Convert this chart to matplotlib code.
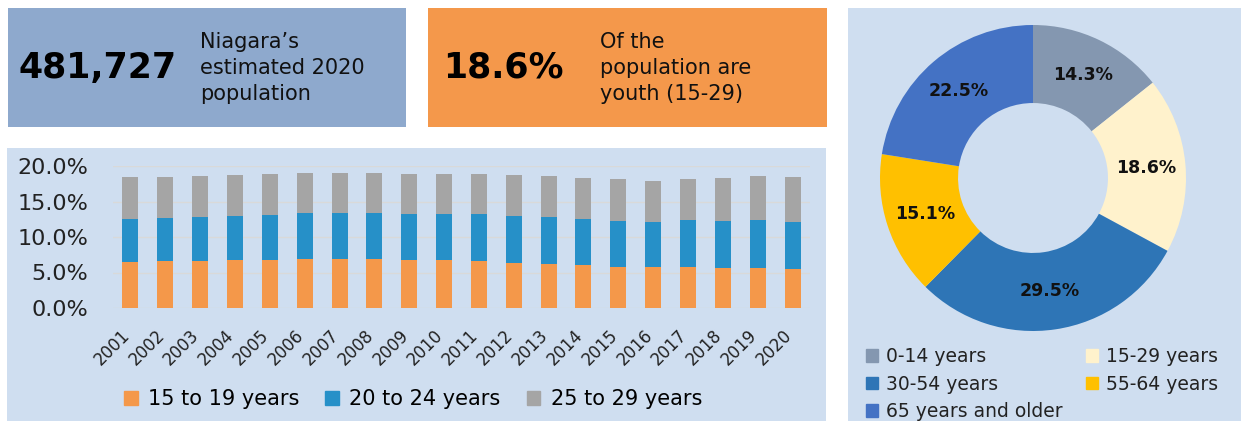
import numpy as np
import matplotlib
matplotlib.use("Agg")
import matplotlib.pyplot as plt
from matplotlib.patches import Rectangle, Patch

# data
years = [str(y) for y in range(2001, 2021)]
top_15_19 = [6.5, 6.65, 6.65, 6.8, 6.8, 6.95, 6.95, 6.95, 6.8, 6.8,
             6.65, 6.35, 6.2, 6.1, 5.8, 5.8, 5.8, 5.65, 5.65, 5.55]
top_20_24 = [12.55, 12.7, 12.85, 13.0, 13.1, 13.4, 13.4, 13.4, 13.25, 13.25,
             13.25, 12.95, 12.8, 12.55, 12.25, 12.1, 12.4, 12.25, 12.4, 12.1]
top_25_29 = [18.45, 18.45, 18.6, 18.75, 18.9, 19.0, 19.0, 19.0, 18.9, 18.9,
             18.9, 18.75, 18.6, 18.3, 18.15, 17.9, 18.15, 18.3, 18.6, 18.45]
series_names = ["15 to 19 years", "20 to 24 years", "25 to 29 years"]

age_groups = ["0-14 years", "15-29 years", "30-54 years", "55-64 years", "65 years and older"]
age_shares = [14.3, 18.6, 29.5, 15.1, 22.5]

W, H = 1241, 421
PANEL = "#CFDEF0"
BAR_COLORS = ["#F4984A", "#2690C8", "#A5A5A5"]
PIE_COLORS = ["#8497B0", "#FFF2CC", "#2E75B6", "#FFC000", "#4472C4"]

plt.rcParams["font.family"] = "DejaVu Sans"

fig = plt.figure(figsize=(W / 100, H / 100), dpi=100)
fig.patch.set_facecolor("white")


def box(x0, y0, x1, y1, color):
    fig.add_artist(Rectangle((x0 / W, 1 - y1 / H), (x1 - x0) / W, (y1 - y0) / H,
                             transform=fig.transFigure, facecolor=color,
                             edgecolor="none", zorder=0))


def fx(x):
    return x / W


def fy(y):
    return 1 - y / H


# background panels
box(8, 8, 406, 127, "#8EA9CD")
box(428, 8, 827, 127, "#F4984B")
box(7, 148, 826, H, PANEL)
box(848, 8, W, H, PANEL)

# headline boxes
fig.text(fx(18), fy(68), "481,727", fontsize=25, fontweight="bold", va="center", ha="left")
fig.text(fx(200), fy(68), "Niagara\u2019s\nestimated 2020\npopulation", fontsize=15,
         va="center", ha="left", linespacing=1.4, color="#111111")
fig.text(fx(443), fy(68), "18.6%", fontsize=25, fontweight="bold", va="center", ha="left")
fig.text(fx(600), fy(68), "Of the\npopulation are\nyouth (15-29)", fontsize=15,
         va="center", ha="left", linespacing=1.4, color="#111111")

# stacked bars
ax = fig.add_axes([fx(113), fy(308), (810 - 113) / W, (308 - 166) / H])
ax.set_facecolor("none")
x = np.arange(len(years))
b1 = np.array(top_15_19)
b2 = np.array(top_20_24) - b1
b3 = np.array(top_25_29) - np.array(top_20_24)
bottom = np.zeros(len(years))
for vals, c in zip([b1, b2, b3], BAR_COLORS):
    ax.bar(x, vals, 0.46, bottom=bottom, color=c, zorder=2)
    bottom = bottom + vals
ax.set_xlim(-0.5, 19.5)
ax.set_ylim(0, 20)
ax.set_yticks([0, 5, 10, 15, 20])
ax.set_yticklabels(["%.1f%%" % v for v in [0, 5, 10, 15, 20]], fontsize=16, color="#222222")
ax.set_xticks(x + 0.08)
ax.set_xticklabels(years, rotation=45, ha="right", va="top", fontsize=12, color="#222222")
ax.tick_params(axis="y", length=0, pad=18)
ax.tick_params(axis="x", length=0, pad=13)
ax.grid(axis="y", color="#D9D9D9", linewidth=1, zorder=1)
for s in ax.spines.values():
    s.set_visible(False)

fig.legend([Patch(color=c) for c in BAR_COLORS], series_names, loc="center",
           bbox_to_anchor=(fx(413), fy(399)), ncol=3, frameon=False, fontsize=15,
           handlelength=0.65, handleheight=0.65, handletextpad=0.5, columnspacing=1.25)

# donut
r = 153
pax = fig.add_axes([fx(1033 - r), fy(178 + r), 2 * r / W, 2 * r / H])
wedges, _, autotexts = pax.pie(age_shares, colors=PIE_COLORS, startangle=90, counterclock=False,
                               radius=1, wedgeprops=dict(width=0.51, edgecolor="none"),
                               autopct="%.1f%%", pctdistance=0.745)
for t in autotexts:
    t.set_fontsize(12.5)
    t.set_fontweight("bold")
    t.set_color("#111111")
pax.set_aspect("equal")
pax.set_xlim(-1, 1)
pax.set_ylim(-1, 1)
pax.axis("off")

order = [0, 2, 4, 1, 3]
fig.legend([Patch(color=PIE_COLORS[i]) for i in order], [age_groups[i] for i in order],
           loc="upper left", bbox_to_anchor=(fx(849), fy(330)), ncol=2, frameon=False,
           fontsize=13.5, handlelength=0.65, handleheight=0.65, handletextpad=0.45,
           columnspacing=1.2, labelspacing=0.46, labelcolor="#222222")

fig.savefig("out.png", dpi=100)
